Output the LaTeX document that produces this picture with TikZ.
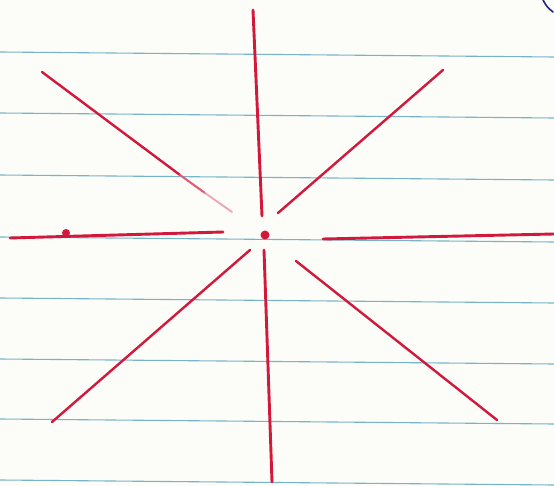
\documentclass[tikz,border=0pt]{standalone}
\begin{document}
\begin{tikzpicture}[x=1pt,y=-1pt,
  ruled/.style={draw=rulecol, line width=1.1pt},
  ink/.style={draw=inkred, line width=2.9pt, line cap=round},
  inkthin/.style={draw=inkred, line width=2.4pt, line cap=round}]
\definecolor{paper}{RGB}{252,252,249}
\definecolor{rulecol}{RGB}{120,180,200}
\definecolor{inkred}{RGB}{210,25,60}
\definecolor{bluepen}{RGB}{30,40,120}
\fill[paper] (0,0) rectangle (554,486);
\useasboundingbox (0,0) rectangle (554,486);
% ruled lines
\foreach \y in {52,113,175,237,298,359,419,480}
  \draw[ruled] (0,\y) -- (554,\y+5);
% blue pen mark at top right
\draw[bluepen, line width=1.6pt, line cap=round] (543,0) .. controls (547,7) .. (553,12);
% centre
\coordinate (c) at (265,235);
\fill[inkred] (c) circle (4.5);
% vertical
\draw[ink] (253,10) -- (262,216);
\draw[ink] (264,250) -- (272,482);
% horizontal
\draw[ink] (10,238) -- (223,232);
\fill[inkred] (66,233) circle (4);
\draw[ink] (323,239) -- (554,234);
% diagonals
\draw[inkthin] (42,72) -- (180,175);
\draw[draw=inkred!70, line width=2.1pt, line cap=round] (180,175) -- (205,193);
\draw[draw=inkred!40, line width=1.8pt, line cap=round] (205,193) -- (232,212);
\draw[inkthin] (443,70) -- (278,213);
\draw[inkthin] (52,422) -- (250,250);
\draw[inkthin] (497,420) -- (296,261);
\end{tikzpicture}
\end{document}
